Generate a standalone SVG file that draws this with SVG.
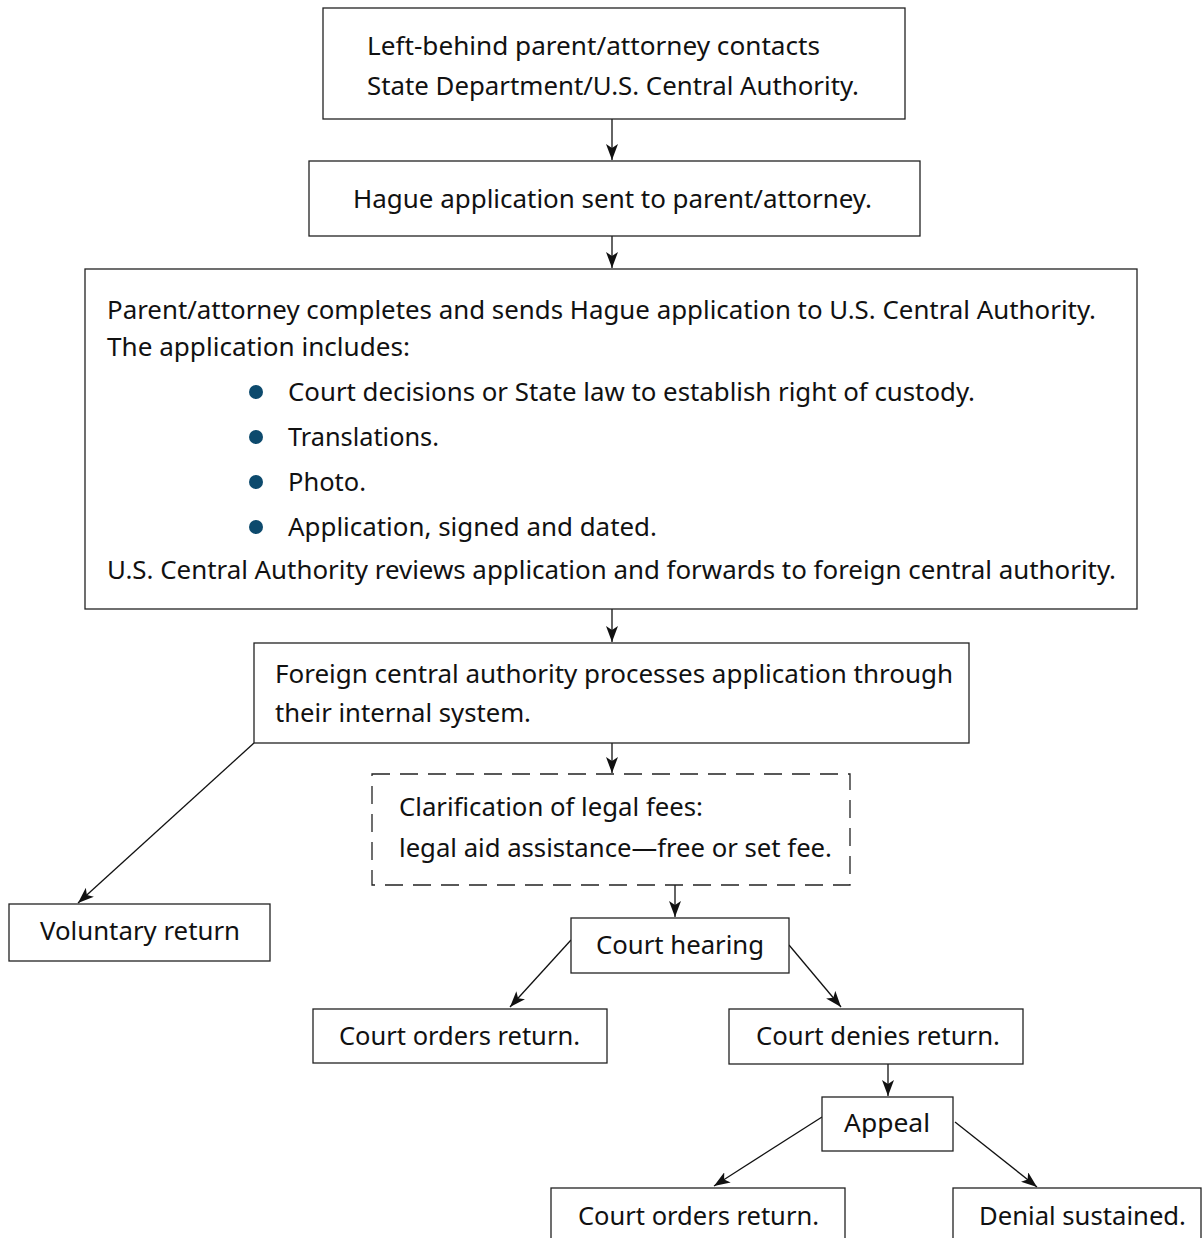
<svg xmlns="http://www.w3.org/2000/svg" width="1202" height="1238" viewBox="0 0 1202 1238">
<style>
.box{fill:#fff;stroke:#222;stroke-width:1.3}
.dash{fill:#fff;stroke:#222;stroke-width:1.3;stroke-dasharray:18 10}
.t{font-family:"Noto Sans","Open Sans","Liberation Sans",sans-serif;font-size:26px;fill:#111}
.c{stroke:#111;stroke-width:1.3;fill:none;marker-end:url(#ah)}
.b{fill:#0d4a6d}
</style>
<defs>
<marker id="ah" viewBox="0 0 16 12" refX="16" refY="6" markerWidth="16" markerHeight="12" markerUnits="userSpaceOnUse" orient="auto">
<path d="M0,0 L16,6 L0,12 L4,6 z" fill="#111"/>
</marker>
</defs>
<rect width="1202" height="1238" fill="#fff"/>
<g id="connectors">
<line class="c" x1="612" y1="119" x2="612" y2="160"/>
<line class="c" x1="612" y1="236" x2="612" y2="268"/>
<line class="c" x1="612" y1="609" x2="612" y2="642"/>
<line class="c" x1="612" y1="743" x2="612" y2="773"/>
<line class="c" x1="254" y1="743" x2="78" y2="903"/>
<line class="c" x1="675" y1="885" x2="675" y2="917"/>
<line class="c" x1="571" y1="940" x2="510" y2="1007"/>
<line class="c" x1="789" y1="945" x2="841" y2="1007"/>
<line class="c" x1="888" y1="1064" x2="888" y2="1096"/>
<line class="c" x1="822" y1="1117" x2="714" y2="1186"/>
<line class="c" x1="955" y1="1122" x2="1037" y2="1187"/>
</g>
<g id="n1">
<rect class="box" x="323" y="8" width="582" height="111"/>
<text class="t" x="367" y="55" textLength="453" lengthAdjust="spacingAndGlyphs">Left-behind parent/attorney contacts</text>
<text class="t" x="367" y="95" textLength="492" lengthAdjust="spacingAndGlyphs">State Department/U.S. Central Authority.</text>
</g>
<g id="n2">
<rect class="box" x="309" y="161" width="611" height="75"/>
<text class="t" x="353" y="208" textLength="519" lengthAdjust="spacingAndGlyphs">Hague application sent to parent/attorney.</text>
</g>
<g id="n3">
<rect class="box" x="85" y="269" width="1052" height="340"/>
<text class="t" x="107" y="319" textLength="989" lengthAdjust="spacingAndGlyphs">Parent/attorney completes and sends Hague application to U.S. Central Authority.</text>
<text class="t" x="107" y="356" textLength="303" lengthAdjust="spacingAndGlyphs">The application includes:</text>
<circle class="b" cx="256" cy="392" r="7"/>
<text class="t" x="288" y="401" textLength="687" lengthAdjust="spacingAndGlyphs">Court decisions or State law to establish right of custody.</text>
<circle class="b" cx="256" cy="437" r="7"/>
<text class="t" x="288" y="446" textLength="151" lengthAdjust="spacingAndGlyphs">Translations.</text>
<circle class="b" cx="256" cy="482" r="7"/>
<text class="t" x="288" y="491" textLength="78" lengthAdjust="spacingAndGlyphs">Photo.</text>
<circle class="b" cx="256" cy="527" r="7"/>
<text class="t" x="288" y="536" textLength="369" lengthAdjust="spacingAndGlyphs">Application, signed and dated.</text>
<text class="t" x="107" y="579" textLength="1009" lengthAdjust="spacingAndGlyphs">U.S. Central Authority reviews application and forwards to foreign central authority.</text>
</g>
<g id="n4">
<rect class="box" x="254" y="643" width="715" height="100"/>
<text class="t" x="275" y="683" textLength="678" lengthAdjust="spacingAndGlyphs">Foreign central authority processes application through</text>
<text class="t" x="275" y="722" textLength="256" lengthAdjust="spacingAndGlyphs">their internal system.</text>
</g>
<g id="n5">
<rect class="dash" x="372" y="774" width="478" height="111"/>
<text class="t" x="399" y="816" textLength="304" lengthAdjust="spacingAndGlyphs">Clarification of legal fees:</text>
<text class="t" x="399" y="857" textLength="433" lengthAdjust="spacingAndGlyphs">legal aid assistance—free or set fee.</text>
</g>
<g id="n6">
<rect class="box" x="9" y="904" width="261" height="57"/>
<text class="t" x="40" y="940" textLength="200" lengthAdjust="spacingAndGlyphs">Voluntary return</text>
</g>
<g id="n7">
<rect class="box" x="571" y="918" width="218" height="55"/>
<text class="t" x="596" y="954" textLength="168" lengthAdjust="spacingAndGlyphs">Court hearing</text>
</g>
<g id="n8">
<rect class="box" x="313" y="1009" width="294" height="54"/>
<text class="t" x="339" y="1045" textLength="241" lengthAdjust="spacingAndGlyphs">Court orders return.</text>
</g>
<g id="n9">
<rect class="box" x="729" y="1009" width="294" height="55"/>
<text class="t" x="756" y="1045" textLength="244" lengthAdjust="spacingAndGlyphs">Court denies return.</text>
</g>
<g id="n10">
<rect class="box" x="822" y="1097" width="131" height="54"/>
<text class="t" x="844" y="1132" textLength="86" lengthAdjust="spacingAndGlyphs">Appeal</text>
</g>
<g id="n11">
<rect class="box" x="551" y="1188" width="294" height="60"/>
<text class="t" x="578" y="1225" textLength="241" lengthAdjust="spacingAndGlyphs">Court orders return.</text>
</g>
<g id="n12">
<rect class="box" x="953" y="1188" width="248" height="60"/>
<text class="t" x="979" y="1225" textLength="207" lengthAdjust="spacingAndGlyphs">Denial sustained.</text>
</g>
</svg>
